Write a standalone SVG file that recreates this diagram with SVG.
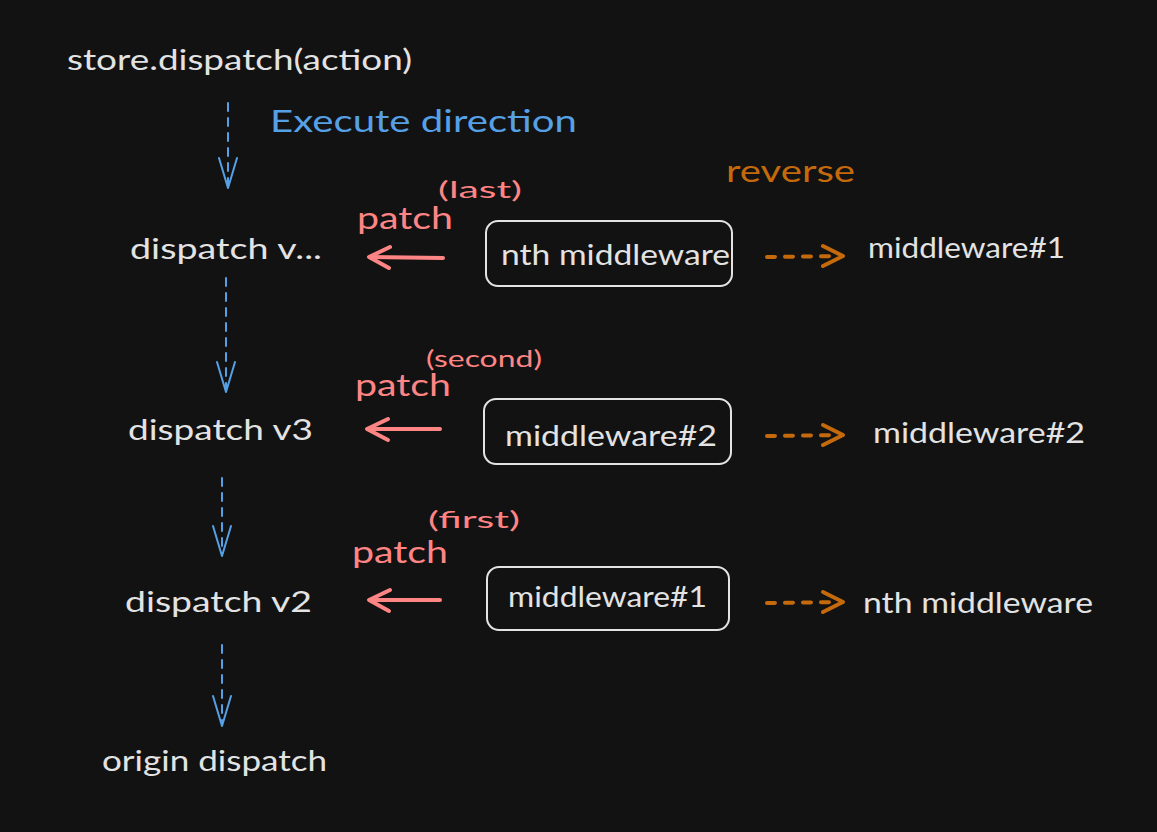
<svg xmlns="http://www.w3.org/2000/svg" width="1157" height="832" viewBox="0 0 1157 832">
<defs>
<style>
text{font-family:"Lato","Noto Sans","DejaVu Sans",sans-serif;}
.w{fill:#e3e3e3;font-size:28px;}
.b{fill:#56a0e6;font-size:30px;}
.r{fill:#ff8585;font-size:30px;}
.rs{fill:#ff8585;font-size:24px;}
.o{fill:#c46a0c;font-size:31px;}
.box{fill:none;stroke:#e3e3e3;stroke-width:2;}
.blue{fill:none;stroke:#56a0e6;stroke-width:2;stroke-linecap:round;stroke-linejoin:round;}
.blued{stroke-dasharray:8 7;}
.red{fill:none;stroke:#ff8585;stroke-width:4;stroke-linecap:round;stroke-linejoin:round;}
.org{fill:none;stroke:#c46a0c;stroke-width:4;stroke-linecap:round;stroke-linejoin:round;}
.orgd{stroke-dasharray:8 10;}
</style>
</defs>
<rect width="1157" height="832" fill="#121212"/>

<g id="title"><text class="w" x="67" y="70" textLength="345" lengthAdjust="spacingAndGlyphs">store.dispatch(action)</text></g>
<g id="execute-label"><text class="b" x="270" y="132" textLength="307" lengthAdjust="spacingAndGlyphs">Execute direction</text></g>
<g id="reverse-label"><text class="o" x="726" y="182" textLength="129" lengthAdjust="spacingAndGlyphs">reverse</text></g>

<g id="dispatch-vn"><text class="w" x="130" y="259" textLength="192" lengthAdjust="spacingAndGlyphs">dispatch v...</text></g>
<g id="dispatch-v3"><text class="w" x="128" y="440" textLength="185" lengthAdjust="spacingAndGlyphs">dispatch v3</text></g>
<g id="dispatch-v2"><text class="w" x="125" y="612" textLength="187" lengthAdjust="spacingAndGlyphs">dispatch v2</text></g>
<g id="origin-dispatch"><text class="w" x="102" y="771" textLength="225" lengthAdjust="spacingAndGlyphs">origin dispatch</text></g>

<g id="box-nth">
<rect class="box" x="486" y="221" width="246" height="65" rx="12"/>
<text class="w" x="501" y="265" textLength="229" lengthAdjust="spacingAndGlyphs">nth middleware</text>
</g>
<g id="box-mw2">
<rect class="box" x="484" y="399" width="247" height="65" rx="12"/>
<text class="w" x="505" y="446" textLength="212" lengthAdjust="spacingAndGlyphs">middleware#2</text>
</g>
<g id="box-mw1">
<rect class="box" x="487" y="567" width="242" height="63" rx="12"/>
<text class="w" x="508" y="607" textLength="199" lengthAdjust="spacingAndGlyphs">middleware#1</text>
</g>

<g id="right-mw1"><text class="w" x="868" y="258" textLength="197" lengthAdjust="spacingAndGlyphs">middleware#1</text></g>
<g id="right-mw2"><text class="w" x="873" y="443" textLength="212" lengthAdjust="spacingAndGlyphs">middleware#2</text></g>
<g id="right-nth"><text class="w" x="863" y="613" textLength="230" lengthAdjust="spacingAndGlyphs">nth middleware</text></g>

<g id="patch-labels">
<text class="r" x="357" y="229" textLength="96" lengthAdjust="spacingAndGlyphs">patch</text>
<text class="rs" x="438" y="198" textLength="84" lengthAdjust="spacingAndGlyphs">(last)</text>
<text class="r" x="355" y="396" textLength="96" lengthAdjust="spacingAndGlyphs">patch</text>
<text class="rs" x="426" y="367" textLength="116" lengthAdjust="spacingAndGlyphs">(second)</text>
<text class="r" x="352" y="563" textLength="96" lengthAdjust="spacingAndGlyphs">patch</text>
<text class="rs" x="428" y="528" textLength="92" lengthAdjust="spacingAndGlyphs">(first)</text>
</g>

<g id="connectors">
<!-- blue execute direction arrows -->
<path class="blue blued" d="M228,103 L228,186"/>
<path class="blue" d="M219,158 L228,188 L237,158"/>
<path class="blue blued" d="M226,278 L226,390"/>
<path class="blue" d="M217,362 L226,392 L235,362"/>
<path class="blue blued" d="M222,478 L222,554"/>
<path class="blue" d="M213,526 L222,556 L231,526"/>
<path class="blue blued" d="M222,645 L222,724"/>
<path class="blue" d="M213,696 L222,726 L231,696"/>
<!-- red patch arrows -->
<path class="red" d="M443,258 L370,257"/>
<path class="red" d="M390,247 L369,257 L389,268"/>
<path class="red" d="M440,429 L368,429"/>
<path class="red" d="M388,419 L367,429 L388,440"/>
<path class="red" d="M440,600 L370,600"/>
<path class="red" d="M390,590 L369,600 L389,611"/>
<!-- orange reverse arrows -->
<path class="org orgd" d="M767,257 L838,256"/>
<path class="org" d="M823,246 L843,256 L823,266"/>
<path class="org orgd" d="M767,436 L838,435"/>
<path class="org" d="M823,425 L843,435 L823,445"/>
<path class="org orgd" d="M767,603 L838,602"/>
<path class="org" d="M823,592 L843,602 L823,612"/>
</g>
</svg>
